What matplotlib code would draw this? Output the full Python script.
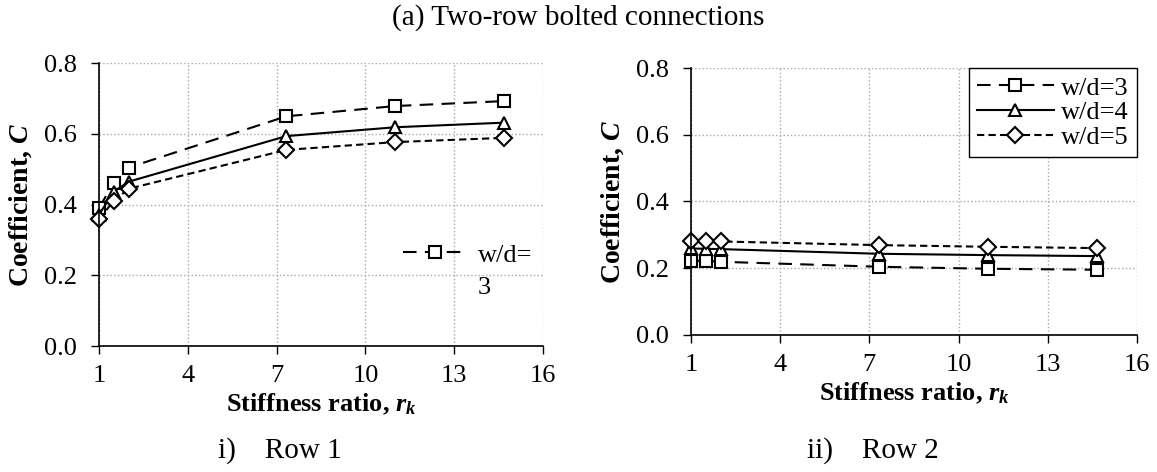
import numpy as np
import matplotlib
matplotlib.use("Agg")
import matplotlib.pyplot as plt

plt.rcParams['font.family'] = ['Liberation Serif', 'DejaVu Serif']
plt.rcParams['mathtext.fontset'] = 'custom'
plt.rcParams['mathtext.rm'] = 'Liberation Serif'
plt.rcParams['mathtext.it'] = 'Liberation Serif:italic'
plt.rcParams['mathtext.bf'] = 'Liberation Serif:bold'
plt.rcParams['mathtext.bfit'] = 'Liberation Serif:bold:italic'

# stiffness ratio values
rk = [1.0, 1.5, 2.0, 7.33, 11.0, 14.67]

# row 1 coefficients
row1_wd3 = [0.391, 0.462, 0.505, 0.650, 0.679, 0.693]
row1_wd4 = [0.372, 0.437, 0.465, 0.594, 0.619, 0.632]
row1_wd5 = [0.359, 0.411, 0.445, 0.555, 0.577, 0.589]

# row 2 coefficients
row2_wd3 = [0.222, 0.222, 0.219, 0.204, 0.198, 0.195]
row2_wd4 = [0.259, 0.258, 0.257, 0.243, 0.239, 0.236]
row2_wd5 = [0.282, 0.282, 0.280, 0.269, 0.264, 0.260]

labels = ["w/d=3", "w/d=4", "w/d=5"]
xticks = [1, 4, 7, 10, 13, 16]
yticks = [0.0, 0.2, 0.4, 0.6, 0.8]

FS = 19

styles = [
    dict(ls=(0, (6.5, 4)), marker='s', ms=8.5),   # w/d=3
    dict(ls='-', marker='^', ms=9),               # w/d=4
    dict(ls=(0, (3.5, 2)), marker='D', ms=8),     # w/d=5
]


def setup_axes(ax):
    ax.set_xlim(1, 16)
    ax.set_ylim(0, 0.8)
    ax.set_xticks(xticks)
    ax.set_yticks(yticks)
    ax.set_yticklabels([f"{v:.1f}" for v in yticks])
    ax.tick_params(labelsize=FS, direction='out', length=6, width=1)
    ax.tick_params(axis='y', pad=10)
    ax.tick_params(axis='x', pad=8)
    ax.grid(True, color='#a8a8a8', ls=':', lw=1)
    ax.spines['top'].set_visible(False)
    ax.spines['right'].set_visible(False)
    ax.spines['left'].set_linewidth(1.2)
    ax.spines['bottom'].set_linewidth(1.2)
    ax.set_xlabel(r"Stiffness ratio, $\mathbfit{r}_{\mathbfit{k}}$", fontsize=FS,
                  fontweight='bold', labelpad=3)
    ax.set_ylabel(r"Coefficient, $\mathbfit{C}$", fontsize=20, fontweight='bold', labelpad=7)


def draw(ax, series):
    handles = []
    for ys, st, lab in zip(series, styles, labels):
        h, = ax.plot(rk, ys, color='black', lw=1.5, ls=st['ls'], marker=st['marker'],
                     ms=st['ms'], mfc='white', mec='black', mew=1.5, label=lab, clip_on=False)
        handles.append(h)
    return handles


fig = plt.figure(figsize=(11.57, 4.72), dpi=100)
ax1 = fig.add_axes([0.0856, 0.2669, 0.3837, 0.599])
ax2 = fig.add_axes([0.5972, 0.2909, 0.3855, 0.5644])

for ax in (ax1, ax2):
    setup_axes(ax)

h1 = draw(ax1, [row1_wd3, row1_wd4, row1_wd5])
h2 = draw(ax2, [row2_wd3, row2_wd4, row2_wd5])

# left panel: only the first entry shows, its label wrapped onto two lines
ax1.legend([h1[0]], ["w/d="], loc='center left', bbox_to_anchor=(0.685, 0.322),
           frameon=False, fontsize=FS, handlelength=2.4, handletextpad=0.42,
           borderaxespad=0, borderpad=0)
ax1.text(0.854, 0.205, "3", transform=ax1.transAxes, ha='left', va='center', fontsize=FS)

leg2 = ax2.legend(h2, labels, loc='upper right', bbox_to_anchor=(1.0, 1.0),
                  fontsize=FS, handlelength=2.9, handletextpad=0.3,
                  fancybox=False, edgecolor='black', framealpha=1,
                  borderaxespad=0, labelspacing=0.05, borderpad=0.3)
leg2.get_frame().set_linewidth(1)

fig.text(0.5, 0.962, "(a) Two-row bolted connections", ha='center', va='center', fontsize=21)
fig.text(0.242, 0.0445, "i)    Row 1", ha='center', va='center', fontsize=21)
fig.text(0.7545, 0.0445, "ii)    Row 2", ha='center', va='center', fontsize=21)

fig.savefig("out.png", dpi=100)
